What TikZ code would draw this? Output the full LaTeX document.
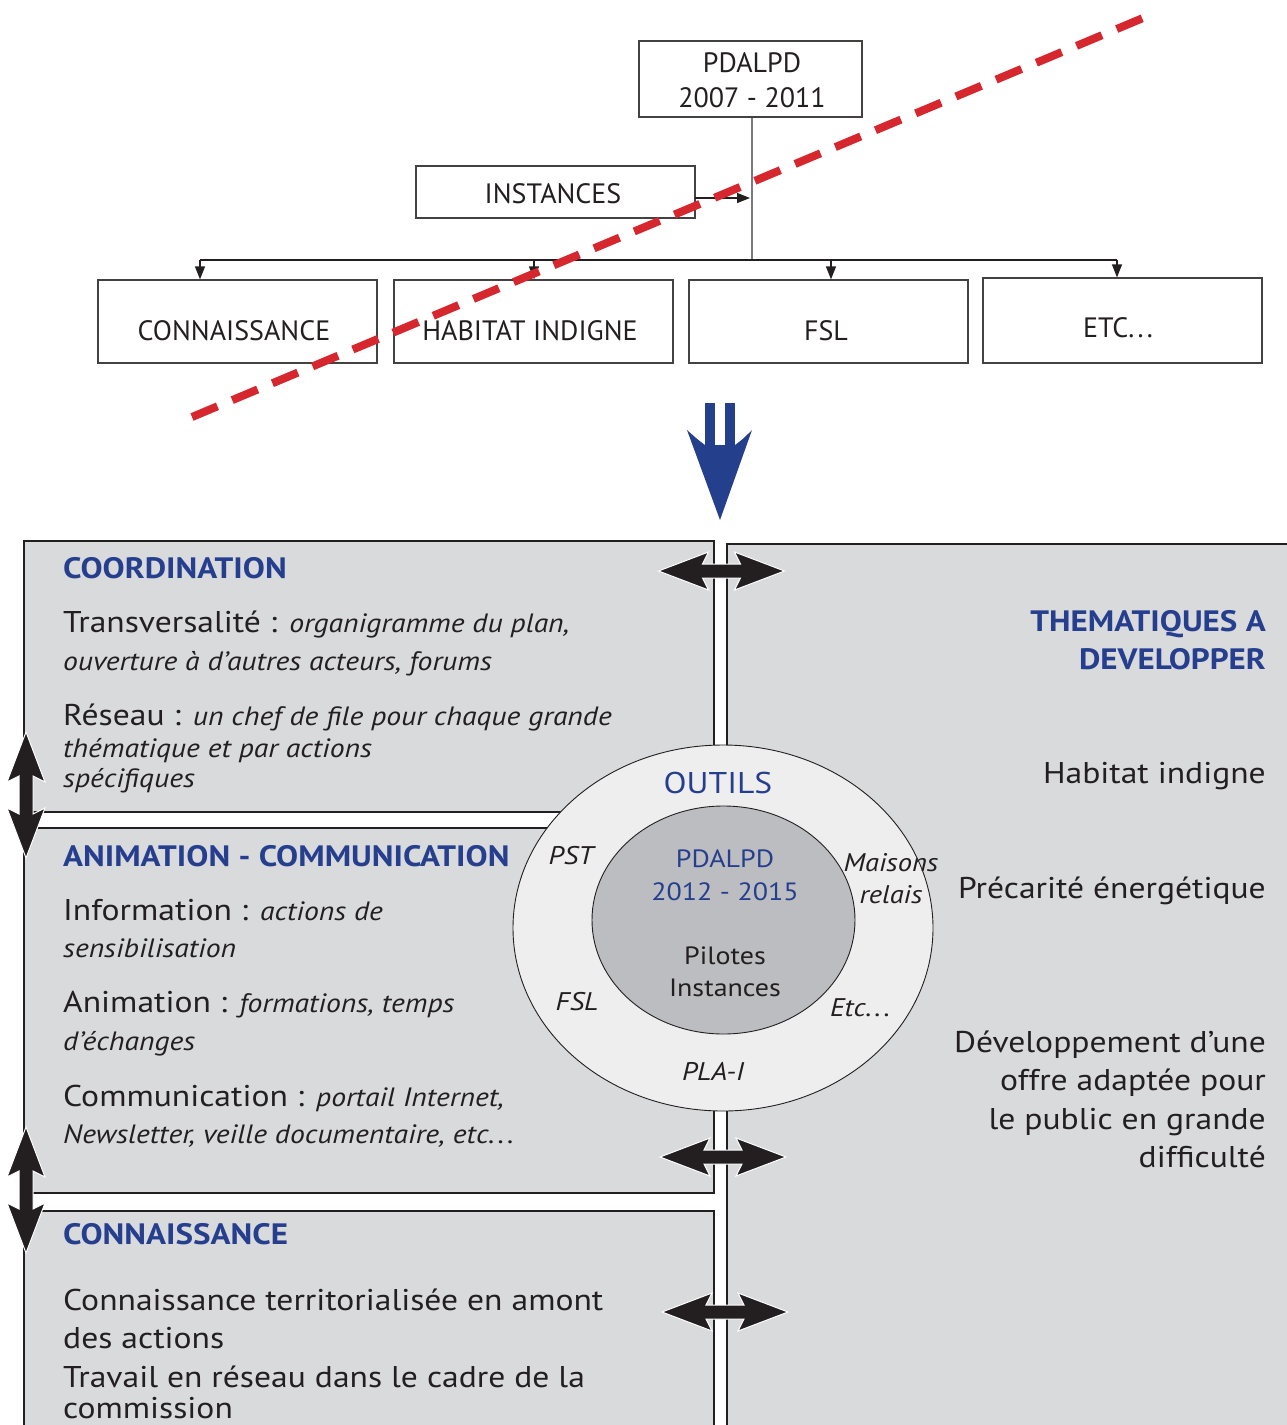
\documentclass[tikz,border=0pt]{standalone}
\usepackage{fontspec}
\setmainfont{PT Sans}[FakeStretch=1.12]
\newfontfamily\orgfont{PT Sans}
\usetikzlibrary{arrows.meta,calc}
\definecolor{boxgray}{HTML}{D9DADC}
\definecolor{ringgray}{HTML}{EEEEEF}
\definecolor{coregray}{HTML}{BCBDC0}
\definecolor{ink}{HTML}{231F20}
\definecolor{navy}{HTML}{263E8E}
\definecolor{arrowblue}{HTML}{243F8C}
\definecolor{dashred}{HTML}{D6262E}
\newcommand\lgtxt{\fontsize{30}{36}\selectfont}
\newcommand\ittxt{\itshape\fontsize{26.5}{30}\selectfont}
\newcommand\ringit{\itshape\fontsize{25.5}{30}\selectfont}
\newcommand\hdtxt{\bfseries\fontsize{29.5}{36}\selectfont}
\newcommand\rgtxt{\fontsize{25}{30}\selectfont}
\newcommand\spdots{.\kern0.12em.\kern0.12em.}
\begin{document}
\begin{tikzpicture}[x=1pt,y=-1pt,
  orgbox/.style={draw=ink!85, line width=1.2pt, fill=white, inner sep=0pt},
  orgtxt/.style={anchor=base, inner sep=0pt, text=ink, font=\orgfont\fontsize{28}{34}\selectfont},
  orgline/.style={draw=ink, line width=1.2pt},
  orgarrow/.style={orgline, -{Triangle[length=13pt,width=10pt]}},
  bigbox/.style={draw=ink, line width=2.5pt, fill=boxgray},
  lt/.style={anchor=base west, inner sep=0pt, text=ink},
  rt/.style={anchor=base east, inner sep=0pt, text=ink},
  ct/.style={anchor=base, inner sep=0pt, text=ink},
  hd/.style={lt, text=navy, font=\hdtxt},
  dblarrow/.pic={
    \fill[ink, draw=white, line width=1pt] (-63,0) -- (-13,19) .. controls (-16,13) .. (-19,7) -- (19,7)
      .. controls (16,13) .. (13,19) -- (63,0) -- (13,-19) .. controls (16,-13) .. (19,-7)
      -- (-19,-7) .. controls (-16,-13) .. (-13,-19) -- cycle;
  }]
\clip (0,0) rectangle (1287,1425);
\fill[white] (0,0) rectangle (1287,1425);

% ---------- bottom boxes ----------
\draw[bigbox] (727,544) rectangle (1300,1440);
\draw[bigbox] (24,541) rectangle (714,812);
\draw[bigbox] (24,828) rectangle (714,1193);
\draw[bigbox] (24,1211) rectangle (714,1440);

% COORDINATION
\node[hd] (hcoord) at (63,578) {COORDINATION};
\node[lt] (t1) at (63,632) {\lgtxt Transversalité : \ittxt organigramme du plan,};
\node[lt] (t2) at (63,670) {\ittxt ouverture à d’autres acteurs, forums};
\node[lt] (t3) at (63,725) {\lgtxt Réseau : \ittxt un chef de file pour chaque grande};
\node[lt] (t4) at (63,757) {\ittxt thématique et par actions};
\node[lt] (t5) at (63,787) {\ittxt spécifiques};

% ANIMATION
\node[hd] (hanim) at (63,866) {ANIMATION - COMMUNICATION};
\node[lt] (a1) at (63,920) {\lgtxt Information : \ittxt actions de};
\node[lt] (a2) at (63,957) {\ittxt sensibilisation};
\node[lt] (a3) at (63,1012) {\lgtxt Animation : \ittxt formations, temps};
\node[lt] (a4) at (63,1050) {\ittxt d’échanges};
\node[lt] (a5) at (63,1106) {\lgtxt Communication : \ittxt portail Internet,};
\node[lt] (a6) at (63,1143) {\ittxt Newsletter, veille documentaire, etc\spdots};

% CONNAISSANCE
\node[hd] (hconn) at (63,1244) {CONNAISSANCE};
\node[lt] (k1) at (63,1310) {\lgtxt Connaissance territorialisée en amont};
\node[lt] (k2) at (63,1348) {\lgtxt des actions};
\node[lt] (k3) at (63,1387) {\lgtxt Travail en réseau dans le cadre de la};
\node[lt] (k4) at (63,1418) {\lgtxt commission};

% THEMATIQUES
\node[rt, text=navy, font=\hdtxt] (th1) at (1266,631) {THEMATIQUES A};
\node[rt, text=navy, font=\hdtxt] (th2) at (1266,669) {DEVELOPPER};
\node[rt] (r1) at (1266,783) {\lgtxt Habitat indigne};
\node[rt] (r2) at (1266,898) {\lgtxt Précarité énergétique};
\node[rt] (r3) at (1266,1052) {\lgtxt Développement d’une};
\node[rt] (r4) at (1266,1090) {\lgtxt offre adaptée pour};
\node[rt] (r5) at (1266,1129) {\lgtxt le public en grande};
\node[rt] (r6) at (1266,1167) {\lgtxt difficulté};

% ---------- OUTILS ellipses ----------
\filldraw[fill=ringgray, draw=ink, line width=0.9pt] (723,928) ellipse [x radius=210, y radius=183];
\filldraw[fill=coregray, draw=ink, line width=0.9pt] (723.5,920) ellipse [x radius=131.5, y radius=114];
\node[ct, text=navy, font=\lgtxt] (outils) at (718,793) {OUTILS};
\node[ct, font=\ringit] (pst) at (571,864) {PST};
\node[ct, font=\ringit] (mr1) at (891,871) {Maisons};
\node[ct, font=\ringit] (mr2) at (891,903) {relais};
\node[ct, font=\ringit] (fsl2) at (577,1010) {FSL};
\node[ct, font=\ringit] (etc2) at (860,1016) {Etc\spdots};
\node[ct, font=\ringit] (plai) at (713,1080) {PLA-I};
\node[ct, text=navy, font=\rgtxt] (pd2) at (725,867) {PDALPD};
\node[ct, text=navy, font=\rgtxt] (yr2) at (725,900) {2012 - 2015};
\node[ct, font=\rgtxt] (pil) at (725,964) {Pilotes};
\node[ct, font=\rgtxt] (ins) at (725,996) {Instances};

% ---------- double arrows ----------
\pic at (721.5,571) {dblarrow};
\pic at (723,1157) {dblarrow};
\pic at (725,1312) {dblarrow};
\pic[rotate=90] at (26,795) {dblarrow};
\pic[rotate=90] at (26,1190) {dblarrow};

% ---------- blue arrow ----------
\fill[arrowblue] (705,403) rectangle (715,446);
\fill[arrowblue] (725,403) rectangle (735,446);
\fill[arrowblue] (687,430) .. controls (697,439) .. (705,445) -- (735,445)
  .. controls (743,439) .. (752,430) -- (720,520) -- cycle;

% ---------- org chart ----------
\node[orgbox, minimum width=223pt, minimum height=76pt] (pd) at (750.5,79) {};
\node[orgbox, minimum width=279pt, minimum height=52pt] (inst) at (555.5,192) {};
\node[orgbox, minimum width=279pt, minimum height=83pt] (c1) at (237.5,321.5) {};
\node[orgbox, minimum width=279pt, minimum height=83pt] (c2) at (533.5,321.5) {};
\node[orgbox, minimum width=279pt, minimum height=83pt] (c3) at (828.5,321.5) {};
\node[orgbox, minimum width=279pt, minimum height=85pt] (c4) at (1122.5,320.5) {};
\node[orgtxt] (pdt1) at (752,72) {PDALPD};
\node[orgtxt] (pdt2) at (752,107) {2007 - 2011};
\node[orgtxt] (instt) at (553,203) {INSTANCES};
\node[orgtxt] (c1t) at (234,340) {CONNAISSANCE};
\node[orgtxt] (c2t) at (530,340) {HABITAT INDIGNE};
\node[orgtxt] (c3t) at (826,340) {FSL};
\node[orgtxt] (c4t) at (1118,337) {ETC\spdots};

\coordinate (j) at (752,260);
\coordinate (ia) at (695,198);
\coordinate (a1) at (200,260);
\coordinate (a2) at (534,260);
\coordinate (a3) at (831,260);
\coordinate (a4) at (1117,260);
\draw[orgline, draw=ink!60] (pd.south -| j) -- (j);
\draw[orgline] (a1) -- (a4);
\draw[orgarrow] (ia) -- (ia -| 750,0);
\draw[orgarrow] (a1) -- (a1 |- c1.north);
\draw[orgarrow] (a2) -- (a2 |- c2.north);
\draw[orgarrow] (a3) -- (a3 |- c3.north);
\draw[orgarrow] (a4) -- (a4 |- c4.north);

% red dashed strike
\coordinate (rs) at (192,417);
\coordinate (re) at (1143,18);
\draw[dashred, line width=8pt, dash pattern=on 27.6pt off 16pt] (rs) -- (re);
\end{tikzpicture}
\end{document}
